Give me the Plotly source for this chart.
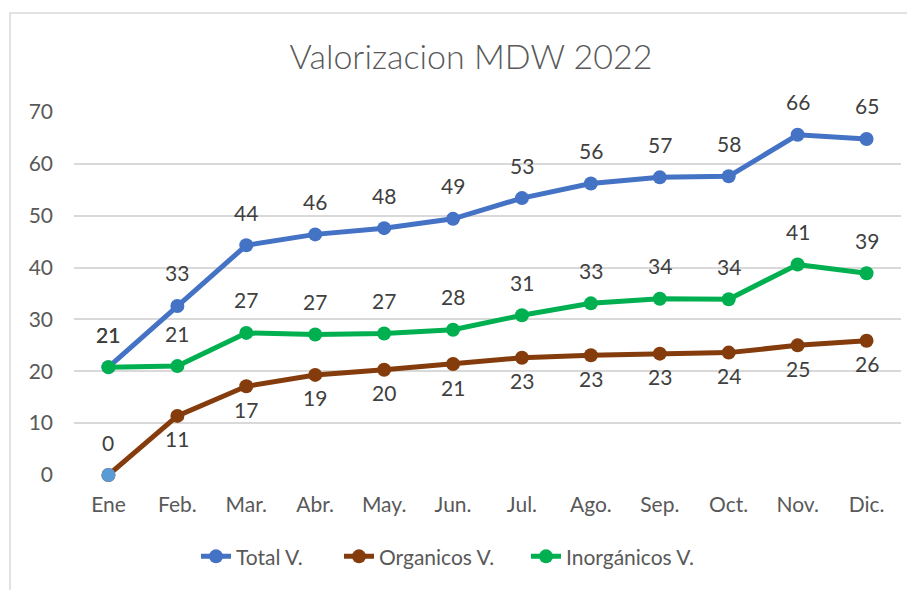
import plotly.graph_objects as go

months = ["Ene", "Feb.", "Mar.", "Abr.", "May.", "Jun.", "Jul.", "Ago.", "Sep.", "Oct.", "Nov.", "Dic."]
total_v = [20.8, 32.6, 44.3, 46.4, 47.6, 49.4, 53.4, 56.2, 57.4, 57.6, 65.6, 64.8]
organicos_v = [0, 11.4, 17.1, 19.3, 20.3, 21.4, 22.6, 23.1, 23.4, 23.6, 25.0, 25.9]
inorganicos_v = [20.8, 21.0, 27.4, 27.1, 27.3, 28.0, 30.8, 33.1, 34.0, 33.9, 40.6, 38.9]
total_labels = ["21", "33", "44", "46", "48", "49", "53", "56", "57", "58", "66", "65"]
organicos_labels = ["0", "11", "17", "19", "20", "21", "23", "23", "23", "24", "25", "26"]
inorganicos_labels = ["21", "21", "27", "27", "27", "28", "31", "33", "34", "34", "41", "39"]

FONT = "Lato"
TXT = "#404040"
AX = "#595959"

fig = go.Figure()
series = [
    ("Total V.", total_v, "#4472C4", "legend"),
    ("Organicos V.", organicos_v, "#843C0C", "legend2"),
    ("Inorgánicos V.", inorganicos_v, "#00B050", "legend3"),
]
for name, vals, col, lg in series:
    fig.add_trace(go.Scatter(
        x=months, y=vals, name=name, mode="lines+markers",
        line=dict(color=col, width=5),
        marker=dict(color=col, size=14),
        cliponaxis=False, legend=lg,
    ))

# first organic point shown in light blue in the original
fig.add_trace(go.Scatter(
    x=months[:1], y=organicos_v[:1], mode="markers", showlegend=False,
    marker=dict(color="#5B9BD5", size=14), hoverinfo="skip", cliponaxis=False,
))

annotations = []
for vals, labels, below in [(total_v, total_labels, False),
                            (inorganicos_v, inorganicos_labels, False),
                            (organicos_v, organicos_labels, True)]:
    for i, (m, v, t) in enumerate(zip(months, vals, labels)):
        down = below and i > 0
        annotations.append(dict(
            x=m, y=v, text=t, showarrow=False,
            yshift=-23 if down else 33,
            font=dict(family=FONT, size=21, color=TXT),
        ))

PL, PW = 74, 827
leg_common = dict(orientation="h", xanchor="left", y=-0.225, yanchor="middle",
                  font=dict(family=FONT, size=21, color=AX), bgcolor="rgba(0,0,0,0)")
fig.update_layout(
    width=915, height=590,
    margin=dict(l=66, r=22, t=104, b=123),
    paper_bgcolor="white", plot_bgcolor="white",
    font=dict(family=FONT, color=AX),
    title=dict(text="Valorizacion MDW 2022", x=(471 - 8) / 915, xref="container",
               y=1 - 49 / 590, yref="container", xanchor="center", yanchor="middle",
               font=dict(family=FONT, size=34, color=AX, weight=300)),
    showlegend=True,
    legend=dict(x=(196 - PL) / PW, **leg_common),
    legend2=dict(x=(339 - PL) / PW, **leg_common),
    legend3=dict(x=(526 - PL) / PW, **leg_common),
    annotations=annotations,
    shapes=[dict(type="rect", xref="paper", yref="paper",
                 x0=(10 - PL) / PW, x1=1.2, y0=-0.5, y1=(475 - 13) / 363,
                 line=dict(color="#D9D9D9", width=1.5), fillcolor="rgba(0,0,0,0)",
                 layer="below")],
)
fig.update_xaxes(type="category", range=[-0.5, 11.5], showgrid=False, showline=False,
                 ticks="", ticklabelstandoff=15, tickfont=dict(family=FONT, size=21, color=AX))
fig.update_yaxes(range=[0, 70], dtick=10, showgrid=True, gridcolor="#D9D9D9", gridwidth=1.5,
                 zeroline=False, showline=False, ticks="", ticklabelstandoff=20,
                 tickfont=dict(family=FONT, size=21, color=AX))

fig.write_html("out.html")
